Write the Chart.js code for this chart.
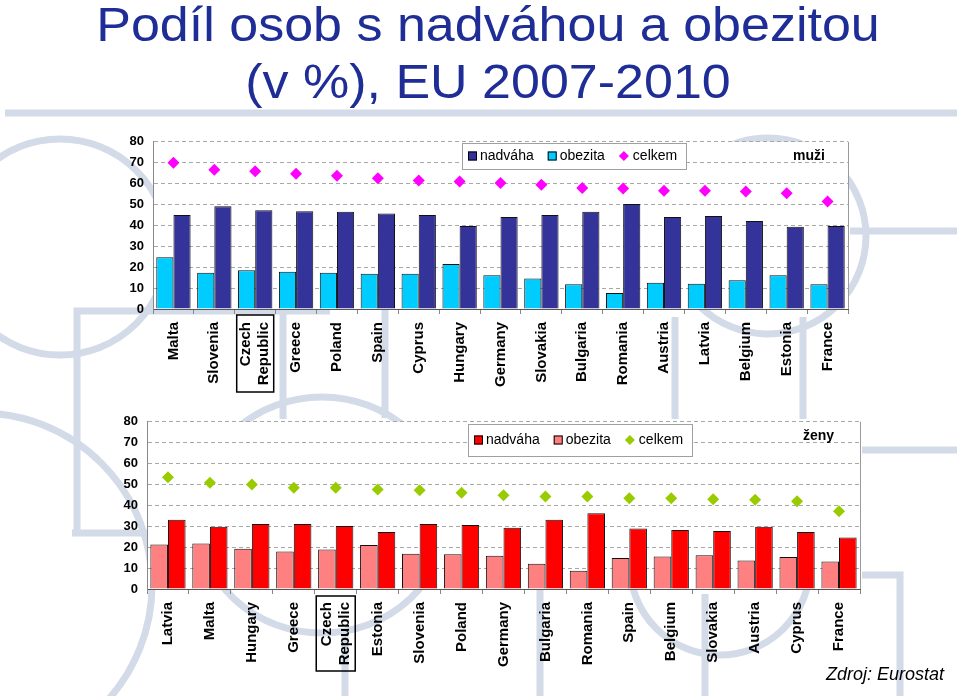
<!DOCTYPE html>
<html>
<head>
<meta charset="utf-8">
<script src="https://cdn.jsdelivr.net/npm/chart.js@4.4.0/dist/chart.umd.min.js"></script>
<style>
body { margin: 0; width: 960px; height: 696px; position: relative; overflow: hidden; background: #fff; font-family: "Liberation Sans", Arial, sans-serif; }
#bg { position: absolute; left: 0; top: 0; }
.title { position: absolute; left: 8px; width: 960px; text-align: center; color: #1f2d96; font-size: 52px; line-height: 52px; white-space: nowrap; transform: scaleY(0.92); transform-origin: 0 0; }
#c1 { position: absolute; left: 0; top: 125px; }
#c2 { position: absolute; left: 0; top: 405px; }
#src { position: absolute; left: 826px; top: 664px; font-size: 18px; font-style: italic; color: #000; }
</style>
</head>
<body>
<svg id="bg" width="960" height="696" fill="none" stroke="#d3dbe8" stroke-width="7">
  <path d="M5 113H957"/>
  <circle cx="60" cy="247" r="108"/>
  <path d="M77 533V311H330M283 311V419M72 533H150"/>
  <circle cx="-20" cy="585" r="172"/>
  <ellipse cx="322" cy="515" rx="125" ry="118"/>
  <path d="M385 300V418"/>
  <circle cx="768" cy="236" r="98"/>
  <path d="M850 231H957M862 450H957M675 317V419M803 317V419"/>
  <path d="M862 575H900V696M705 594V696M345 633V696M540 587V696"/>
  <circle cx="720" cy="565" r="90"/>
</svg>
<div class="title" style="top:1px">Podíl osob s nadváhou a obezitou</div>
<div class="title" style="top:58px">(v %), EU 2007-2010</div>
<canvas id="c1" width="960" height="290"></canvas>
<canvas id="c2" width="960" height="291"></canvas>
<div id="src">Zdroj: Eurostat</div>
<script>
const menLabels = ['Malta', 'Slovenia', ['Czech', 'Republic'], 'Greece', 'Poland', 'Spain', 'Cyprus', 'Hungary', 'Germany', 'Slovakia', 'Bulgaria', 'Romania', 'Austria', 'Latvia', 'Belgium', 'Estonia', 'France'];
const menObezita = [24.8, 17.4, 18.6, 17.8, 17.4, 16.9, 16.9, 21.5, 16.2, 14.6, 11.8, 7.6, 12.6, 12.1, 13.7, 16.2, 11.8];
const menNadvaha = [45.0, 49.2, 47.3, 46.8, 46.5, 45.7, 45.0, 39.7, 44.0, 45.0, 46.5, 50.2, 44.0, 44.5, 42.1, 39.3, 39.7];
const menCelkem = [70.0, 66.6, 65.9, 64.7, 63.7, 62.6, 61.5, 61.0, 60.3, 59.5, 57.9, 57.6, 56.6, 56.6, 56.2, 55.4, 51.4];

const womenLabels = ['Latvia', 'Malta', 'Hungary', 'Greece', ['Czech', 'Republic'], 'Estonia', 'Slovenia', 'Poland', 'Germany', 'Bulgaria', 'Romania', 'Spain', 'Belgium', 'Slovakia', 'Austria', 'Cyprus', 'France'];
const womenObezita = [21.3, 21.8, 19.2, 18.0, 18.9, 21.0, 16.9, 16.6, 15.9, 12.1, 8.7, 14.8, 15.6, 16.1, 13.6, 15.3, 13.2];
const womenNadvaha = [33.1, 29.8, 31.1, 31.1, 30.1, 27.3, 31.1, 30.6, 29.3, 33.1, 36.3, 29.0, 28.2, 27.8, 29.8, 27.3, 24.6];
const womenCelkem = [53.5, 50.8, 50.0, 48.4, 48.4, 47.6, 47.2, 46.1, 44.8, 44.2, 44.2, 43.4, 43.4, 42.9, 42.7, 42.0, 37.2];

const yTicks = [0, 10, 20, 30, 40, 50, 60, 70, 80];
const seriesNames = ['obezita', 'nadváha', 'celkem'];
const highlight = 'Czech';

const FONT = '"Liberation Sans", Arial, sans-serif';

// white plot area, right frame, box round the highlighted label, legend box and note
const decor = {
  id: 'decor',
  beforeDraw(chart) {
    const a = chart.chartArea;
    chart.ctx.save();
    chart.ctx.fillStyle = '#fff';
    chart.ctx.fillRect(a.left, a.top, a.right - a.left, a.bottom - a.top);
    chart.ctx.restore();

    // centre the two-line label on its category
    const hi = chart.data.labels.findIndex(l => Array.isArray(l) && l[0] === highlight);
    const item = chart.scales.x.getLabelItems()[hi];
    if (item && !item.shifted) {
      item.options.translation[0] -= 9;
      item.shifted = true;
    }
  },
  afterDraw(chart, args, o) {
    const ctx = chart.ctx;
    const a = chart.chartArea;
    const x = chart.scales.x;
    ctx.save();
    ctx.strokeStyle = '#9a9a9a';
    ctx.lineWidth = 1;
    ctx.beginPath();
    ctx.moveTo(a.right + 0.5, a.top);
    ctx.lineTo(a.right + 0.5, a.bottom);
    ctx.stroke();

    const hi = chart.data.labels.findIndex(l => Array.isArray(l) && l[0] === highlight);
    const px = x.getPixelForValue(hi);
    ctx.strokeStyle = '#000';
    ctx.lineWidth = 1.5;
    ctx.strokeRect(px - o.hiW / 2, a.bottom + o.hiTop, o.hiW, o.hiH);

    // legend
    const L = o.legend;
    ctx.fillStyle = '#fff';
    ctx.fillRect(L.x, L.y, L.w, L.h);
    ctx.strokeStyle = '#a0a0a0';
    ctx.lineWidth = 1;
    ctx.strokeRect(L.x + 0.5, L.y + 0.5, L.w, L.h);
    ctx.font = '14px ' + FONT;
    ctx.textBaseline = 'middle';
    ctx.textAlign = 'left';
    const cy = L.y + L.h / 2;
    let cx = L.x + 6;
    [1, 0, 2].forEach(i => {
      const ds = chart.data.datasets[i];
      ctx.fillStyle = ds.backgroundColor;
      if (ds.type === 'line') {
        ctx.beginPath();
        ctx.moveTo(cx + 5, cy - 5);
        ctx.lineTo(cx + 10, cy);
        ctx.lineTo(cx + 5, cy + 5);
        ctx.lineTo(cx, cy);
        ctx.closePath();
        ctx.fill();
        cx += 14;
      } else {
        ctx.fillRect(cx, cy - 4.5, 9, 9);
        ctx.strokeStyle = '#000';
        ctx.strokeRect(cx + 0.5, cy - 4, 8, 8);
        cx += 12;
      }
      ctx.fillStyle = '#000';
      ctx.fillText(ds.label, cx, cy);
      cx += ctx.measureText(ds.label).width + 14;
    });

    ctx.font = 'bold 14px ' + FONT;
    ctx.fillText(o.note, o.noteX, o.noteY);
    ctx.restore();
  }
};

function makeChart(id, labels, obezita, nadvaha, celkem, colors, lay) {
  return new Chart(document.getElementById(id), {
    type: 'bar',
    data: {
      labels: labels,
      datasets: [
        { label: seriesNames[0], data: obezita, backgroundColor: colors[0], borderColor: '#111', borderWidth: 1, categoryPercentage: 0.84, barPercentage: 1.0 },
        { label: seriesNames[1], data: nadvaha, backgroundColor: colors[1], borderColor: '#111', borderWidth: 1, categoryPercentage: 0.84, barPercentage: 1.0 },
        { type: 'line', label: seriesNames[2], data: celkem, showLine: false, pointStyle: 'rectRot', pointRadius: 6, backgroundColor: colors[2], borderColor: colors[2], borderWidth: 0 }
      ]
    },
    options: {
      responsive: false,
      animation: false,
      devicePixelRatio: 1,
      layout: { padding: lay.padding },
      plugins: {
        legend: { display: false },
        tooltip: { enabled: false },
        decor: lay.decor
      },
      scales: {
        x: {
          grid: { offset: true, drawOnChartArea: false, drawTicks: true, tickLength: 5, color: '#888' },
          border: { color: '#555' },
          ticks: { color: '#000', font: { family: FONT, size: 15, weight: 'bold' }, maxRotation: 90, minRotation: 90, autoSkip: false, padding: 8 },
          afterFit: s => { s.height = lay.xHeight; }
        },
        y: {
          min: 0, max: 80,
          afterBuildTicks: s => { s.ticks = yTicks.map(v => ({ value: v })); },
          grid: { color: '#a8a8a8', drawTicks: false },
          border: { color: '#888', dash: [4, 3] },
          ticks: { color: '#000', font: { family: FONT, size: 13, weight: 'bold' }, padding: 9 },
          afterFit: s => { s.width = lay.yWidth; }
        }
      }
    },
    plugins: [decor]
  });
}

makeChart('c1', menLabels, menObezita, menNadvaha, menCelkem, ['#00ccff', '#333399', '#ff00ff'], {
  padding: { left: 100, right: 112, top: 14, bottom: 0 },
  yWidth: 53, xHeight: 106,
  decor: { hiW: 37, hiTop: 6, hiH: 77, legend: { x: 462, y: 18, w: 224, h: 26 }, note: 'muži', noteX: 793, noteY: 31 }
});

makeChart('c2', womenLabels, womenObezita, womenNadvaha, womenCelkem, ['#ff8080', '#ff0000', '#99cc00'], {
  padding: { left: 100, right: 100, top: 15, bottom: 0 },
  yWidth: 47, xHeight: 107,
  decor: { hiW: 39, hiTop: 7, hiH: 75, legend: { x: 468, y: 19, w: 224, h: 32 }, note: 'ženy', noteX: 803, noteY: 31 }
});
</script>
</body>
</html>
